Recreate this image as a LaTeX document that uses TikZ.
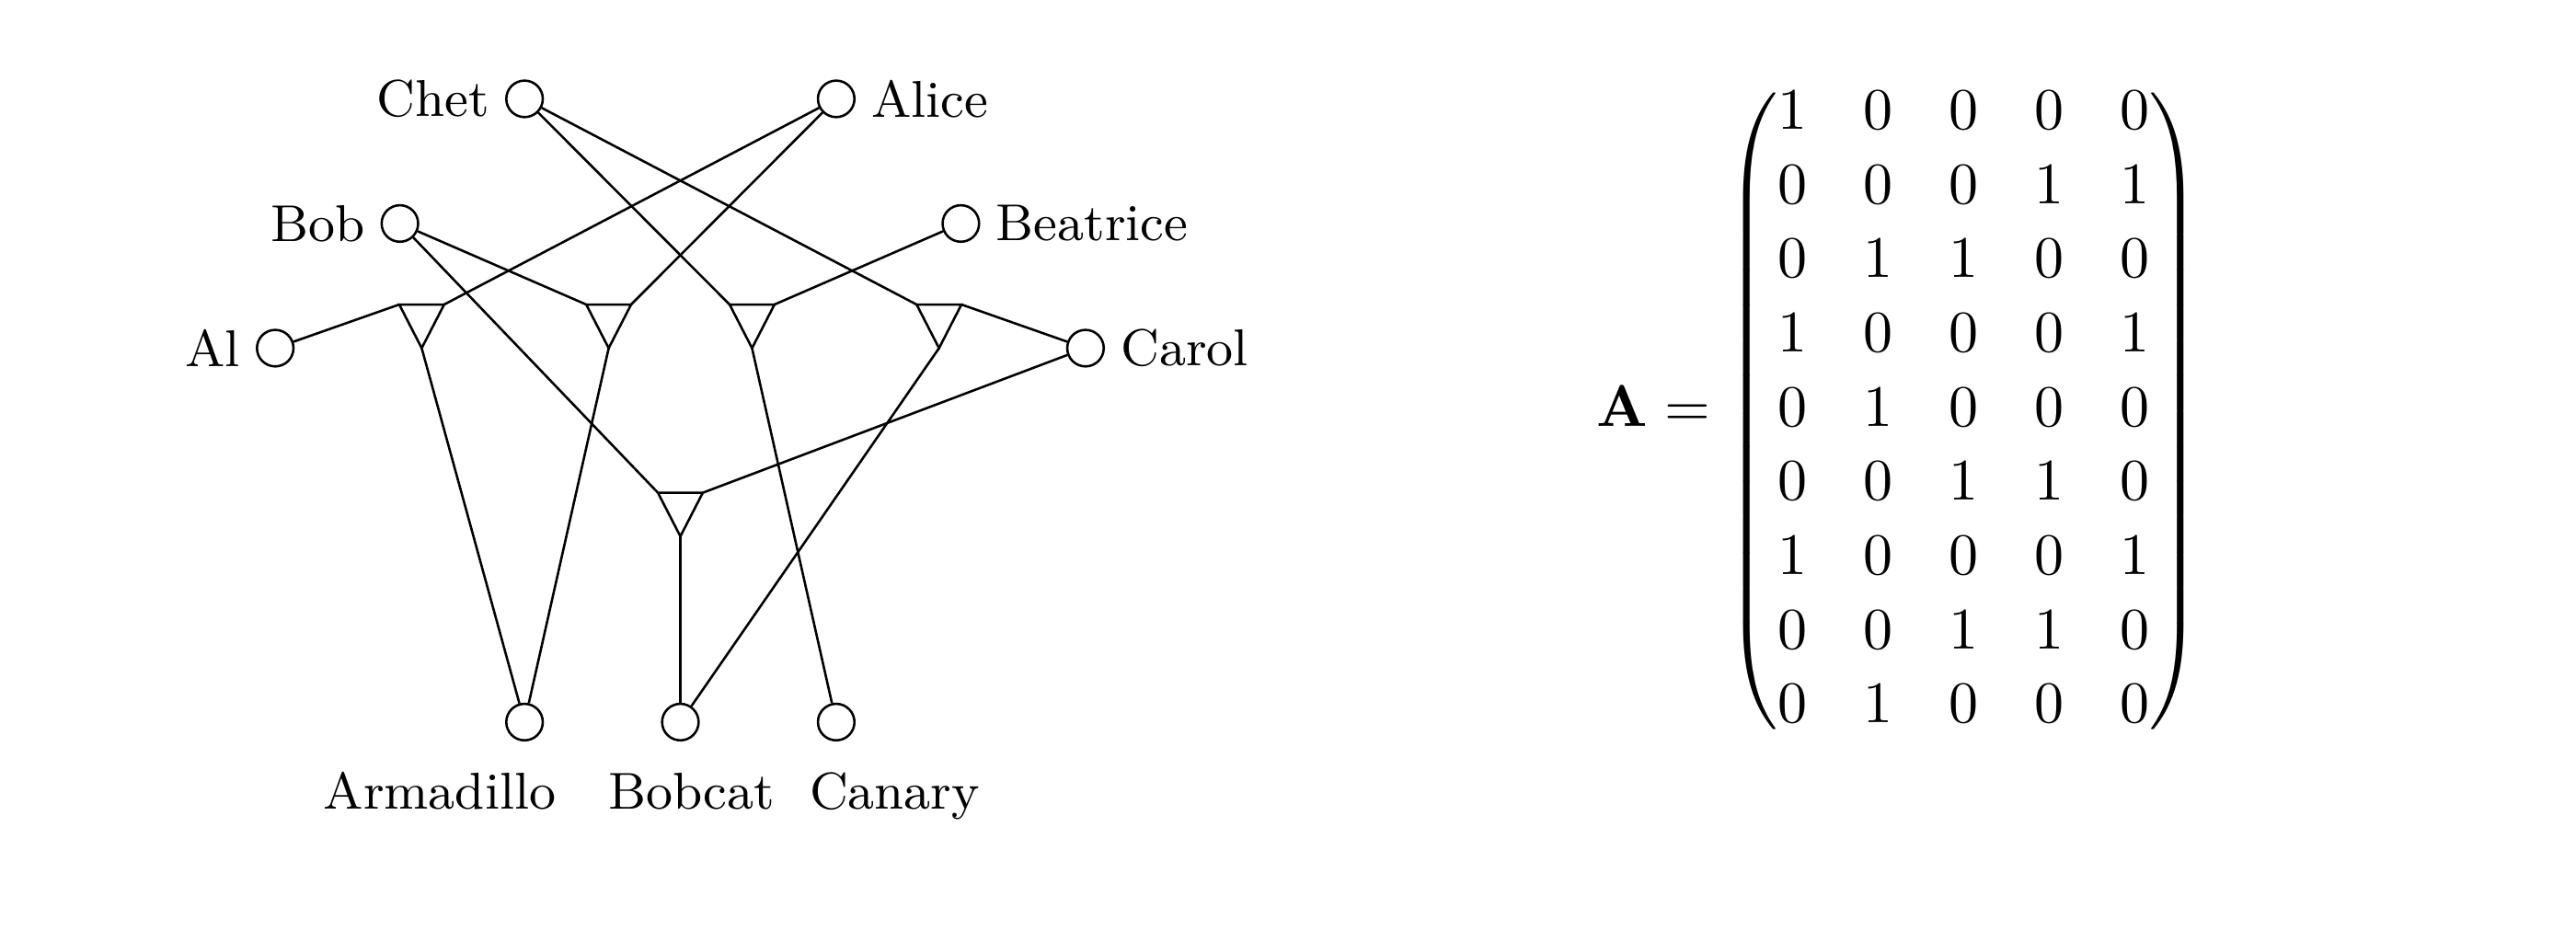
\documentclass[tikz,border=0pt]{standalone}
\usepackage{amsmath}
\usetikzlibrary{calc,positioning}

\begin{document}
\begin{tikzpicture}[x=0.744cm,y=0.744cm,
  agent/.style={circle,draw,minimum size=6.2pt,inner sep=0pt},
  nametag/.style={font=\fontsize{8.8}{10}\selectfont,inner sep=2.5pt}]

\useasboundingbox (-5.458,-1.764) rectangle (15.207,5.793);

\def\tw {0.18} \def\th {0.35}
\newcommand{\gate}[2] % [name][middle of top edge]
{
 \coordinate (#1-l) at ($(#2)+(-\tw,0)$);
 \coordinate (#1-r) at ($(#2)+(\tw,0)$);
 \coordinate (#1-o) at ($(#2)+(0,-\th)$);
 \draw (#1-l) -- (#1-r) -- (#1-o) -- cycle;
}

% people and animals
\node[agent] (chet) at (-1.25,5) {};
\node[agent] (alice) at (1.25,5) {};
\node[agent] (bob) at (-2.25,4) {};
\node[agent] (beatrice) at (2.25,4) {};
\node[agent] (al) at (-3.25,3) {};
\node[agent] (carol) at (3.25,3) {};
\node[agent] (armadillo) at (-1.25,0) {};
\node[agent] (bobcat) at (0,0) {};
\node[agent] (canary) at (1.25,0) {};

\node[nametag,left=0pt of chet] (chet-n) {Chet};
\node[nametag,right=0pt of alice] (alice-n) {Alice};
\node[nametag,left=0pt of bob] (bob-n) {Bob};
\node[nametag,right=0pt of beatrice] (beatrice-n) {Beatrice};
\node[nametag,left=0pt of al] (al-n) {Al};
\node[nametag,right=0pt of carol] (carol-n) {Carol};
\node[nametag,anchor=base] (armadillo-n) at (-1.93,-0.70) {Armadillo};
\node[nametag,anchor=base] (bobcat-n) at (0.09,-0.70) {Bobcat};
\node[nametag,anchor=base] (canary-n) at (1.72,-0.70) {Canary};

% gates
\gate{g1}{-2.075,3.35}
\gate{g2}{-0.575,3.35}
\gate{g3}{0.575,3.35}
\gate{g4}{2.075,3.35}
\gate{g5}{0,1.84}

\foreach \a/\b in {al/g1-l, alice/g1-r, bob/g2-l, alice/g2-r,
  chet/g3-l, beatrice/g3-r, chet/g4-l, carol/g4-r,
  bob/g5-l, carol/g5-r}
  \draw (\a) -- (\b);
\foreach \a/\b in {g1-o/armadillo, g2-o/armadillo, g3-o/canary,
  g4-o/bobcat, g5-o/bobcat}
  \draw (\a) -- (\b);

% matrix
\node (adj) at (9.775,2.494) {\setlength{\arraycolsep}{4.75pt}%
 \renewcommand{\arraystretch}{1.05}\delimitershortfall=8pt%
 $\mathbf{A} = \begin{pmatrix}
 1 & 0 & 0 & 0 & 0\\
 0 & 0 & 0 & 1 & 1\\
 0 & 1 & 1 & 0 & 0\\
 1 & 0 & 0 & 0 & 1\\
 0 & 1 & 0 & 0 & 0\\
 0 & 0 & 1 & 1 & 0\\
 1 & 0 & 0 & 0 & 1\\
 0 & 0 & 1 & 1 & 0\\
 0 & 1 & 0 & 0 & 0
 \end{pmatrix}$};
\end{tikzpicture}
\end{document}
